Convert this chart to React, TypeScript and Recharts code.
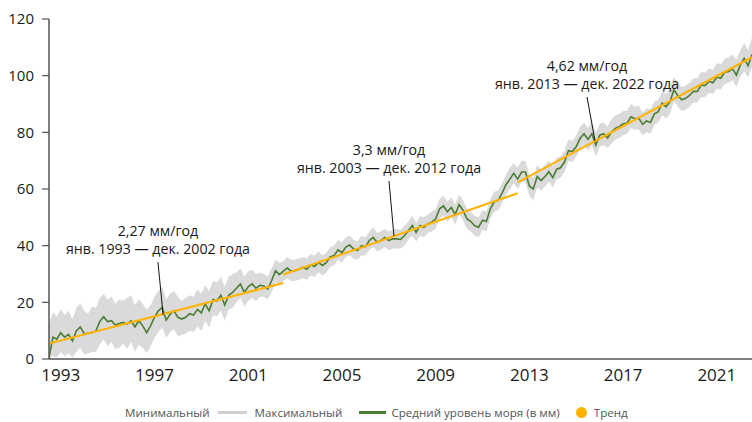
import { ComposedChart, Area, Line, XAxis, YAxis, ReferenceLine, ReferenceDot } from 'recharts';

// sea level, mm, every two months from Jan 1993 to Jan 2023
const startYear = 1993;
const stepsPerYear = 6;

const seaMean = [
  0.5, 7.7, 7.0, 9.3, 7.7, 8.7,
  6.4, 9.9, 11.3, 9.0, 9.0, 9.3,
  9.9, 13.2, 14.9, 13.2, 13.5, 12.0,
  12.5, 12.9, 12.3, 13.5, 11.3, 13.5,
  11.7, 9.3, 11.7, 14.7, 17.0, 18.2,
  13.7, 15.8, 17.0, 14.7, 14.1, 14.7,
  16.0, 15.5, 17.5, 16.3, 19.5, 17.0,
  21.0, 20.5, 22.5, 19.0, 22.5, 23.5,
  25.0, 26.5, 23.5, 25.5, 26.5, 25.0,
  26.0, 25.8, 24.7, 27.6, 31.2, 29.8,
  31.0, 32.1, 31.0, 31.2, 31.7, 32.3,
  31.7, 33.2, 32.6, 34.1, 33.0, 34.0,
  36.0, 36.5, 38.5, 37.5, 39.5, 40.2,
  38.8, 38.3, 40.0, 39.6, 41.8, 42.9,
  41.2, 41.8, 42.9, 41.8, 42.4, 42.4,
  42.2, 43.5, 45.3, 47.1, 44.7, 47.1,
  46.5, 47.7, 48.3, 49.5, 53.0, 54.0,
  52.0, 53.5, 51.0, 54.5, 52.5, 49.5,
  48.5, 47.0, 46.5, 49.0, 48.5, 53.0,
  55.5, 56.0, 58.5, 61.5, 63.5, 65.5,
  63.5, 66.0, 66.0, 61.0, 60.0, 64.4,
  63.0, 64.4, 66.1, 64.0, 67.0, 67.5,
  69.6, 73.5, 73.2, 75.0, 77.9, 79.5,
  77.5, 79.5, 75.5, 79.0, 79.5, 78.0,
  80.0, 81.4, 82.0, 83.0, 83.2, 85.5,
  84.8, 85.0, 82.8, 84.0, 83.5, 86.5,
  87.3, 90.3, 89.0, 90.8, 95.0, 93.0,
  91.5, 92.0, 93.0, 94.5, 94.4, 96.7,
  96.5, 98.0, 97.5, 99.5, 99.1, 101.2,
  101.5, 102.5, 100.2, 103.8, 106.1, 103.5,
  107.5,
];

const seaMin = [
  0, 1.0, 0.5, 2.5, 1.0, 2.0,
  0.5, 2.5, 4.0, 1.5, 2.0, 2.5,
  2.5, 5.0, 7.0, 4.5, 6.0, 3.5,
  4.0, 5.5, 3.5, 6.0, 2.5, 5.0,
  4.0, 2.0, 4.5, 7.5, 9.5, 11.0,
  7.5, 9.5, 10.5, 8.0, 8.5, 9.0,
  10.0, 9.5, 11.5, 10.0, 13.5, 11.0,
  15.5, 15.0, 17.0, 13.5, 17.5, 18.0,
  20.0, 21.5, 18.5, 20.5, 21.5, 20.5,
  22.0, 22.0, 21.0, 23.5, 27.0, 26.0,
  27.5, 28.5, 27.5, 27.5, 28.0, 28.5,
  28.0, 29.5, 29.0, 30.5, 29.5, 30.5,
  32.5, 33.0, 35.0, 34.0, 36.0, 36.5,
  35.5, 35.0, 36.5, 36.5, 38.5, 39.5,
  38.0, 38.5, 39.5, 38.5, 39.0, 39.0,
  39.0, 40.0, 42.0, 43.5, 41.5, 43.5,
  43.0, 44.5, 45.0, 46.0, 49.5, 50.5,
  48.5, 50.0, 47.5, 51.0, 49.0, 46.0,
  45.0, 43.5, 43.0, 45.5, 45.0, 49.5,
  52.0, 52.5, 55.0, 58.0, 60.0, 62.0,
  60.0, 62.5, 62.5, 57.5, 56.0, 60.5,
  59.5, 61.0, 62.5, 60.5, 63.5, 64.0,
  66.0, 70.0, 69.5, 71.5, 74.0, 75.5,
  73.5, 75.5, 71.5, 75.0, 75.5, 74.5,
  76.0, 77.5, 78.0, 79.0, 79.5, 81.5,
  81.0, 81.0, 79.0, 80.0, 79.5, 82.5,
  83.5, 86.0, 85.0, 86.5, 91.0, 89.0,
  87.5, 88.0, 89.0, 90.5, 90.5, 92.5,
  92.5, 94.0, 93.5, 95.5, 95.0, 97.0,
  97.5, 98.5, 96.0, 99.5, 101.5, 99.5,
  103.0,
];

const seaMax = [
  12.0, 16.5, 15.0, 17.5, 15.5, 17.0,
  14.0, 18.0, 19.5, 17.0, 16.0, 18.5,
  18.0, 21.5, 23.0, 21.0, 22.0, 19.5,
  21.0, 20.5, 21.5, 22.5, 19.0, 21.0,
  19.5, 17.5, 19.0, 22.0, 24.0, 25.5,
  21.0, 23.0, 24.0, 22.0, 20.5, 21.5,
  22.5, 22.0, 24.5, 23.0, 26.0, 24.0,
  27.5, 27.0, 29.0, 25.5, 29.0, 30.0,
  30.5, 32.0, 29.0, 31.0, 31.5, 30.0,
  30.5, 30.0, 29.0, 32.0, 35.0, 34.0,
  34.5, 36.0, 35.0, 35.0, 35.5, 36.0,
  35.5, 37.0, 36.5, 38.0, 36.5, 37.5,
  39.5, 40.0, 42.0, 41.0, 43.0, 43.5,
  42.0, 41.5, 43.5, 43.0, 45.0, 46.5,
  44.5, 45.0, 46.0, 45.0, 45.5, 46.0,
  45.5, 47.0, 48.5, 50.5, 48.0, 50.5,
  50.0, 51.0, 52.0, 53.0, 56.5, 57.5,
  55.5, 57.0, 54.5, 58.0, 56.0, 53.0,
  52.0, 50.5, 50.0, 52.5, 52.0, 56.5,
  59.0, 59.5, 62.0, 65.0, 67.5, 69.0,
  67.5, 70.0, 70.0, 65.0, 64.0, 68.5,
  67.0, 68.5, 70.0, 68.0, 71.0, 71.5,
  73.5, 77.5, 77.0, 79.0, 82.0, 83.5,
  81.5, 83.5, 80.0, 83.0, 83.5, 82.0,
  84.5, 86.0, 86.5, 87.5, 87.5, 90.0,
  89.0, 89.5, 87.0, 88.5, 88.0, 91.0,
  91.5, 94.5, 93.5, 95.5, 99.5, 97.5,
  96.0, 96.5, 97.5, 99.0, 99.0, 101.5,
  101.0, 102.5, 102.0, 104.5, 104.0, 106.0,
  106.5, 107.5, 105.5, 109.0, 111.5, 109.0,
  113.5,
];

// linear trends per decade
const trendFrom = [1993, 2003, 2013];
const trendTo = [2003, 2013, 2023];
const trendStartValue = [5.5, 29.8, 62.3];
const trendEndValue = [26.8, 58.5, 106.5];

// annotations: text plus leader line (top point -> point on trend)
const noteRate = ['2,27 мм/год', '3,3 мм/год', '4,62 мм/год'];
const notePeriod = ['янв. 1993 — дек. 2002 года', 'янв. 2003 — дек. 2012 года', 'янв. 2013 — дек. 2022 года'];
const noteTopYear = [1997.65, 2007.51, 2015.96];
const noteTopValue = [34.2, 62.8, 92.5];
const noteEndYear = [1997.87, 2007.72, 2016.3];
const noteEndValue = [15.5, 43.4, 77.0];

const xTickYears = [1993, 1997, 2001, 2005, 2009, 2013, 2017, 2021];
const yTicks = [0, 20, 40, 60, 80, 100, 120];

const data = seaMean.map((mean, i) => ({
  t: startYear + i / stepsPerYear,
  mean,
  band: [seaMin[i], seaMax[i]],
}));

const trends = trendFrom.map((from, i) => [
  { t: from, v: trendStartValue[i] },
  { t: trendTo[i], v: trendEndValue[i] },
]);

const GREEN = '#4b7c33';
const GRAY = '#dadada';
const ORANGE = '#ffb300';
const FONT = '"Open Sans", sans-serif';

const NoteLabel = ({ viewBox, rate, period }: any) => {
  const x = viewBox.x;
  const y = viewBox.y;
  return (
    <g fontFamily={FONT} fontSize={14.2} fill="#1a1a1a" textAnchor="middle">
      <text x={x} y={y - 26}>{rate}</text>
      <text x={x} y={y - 8}>{period}</text>
    </g>
  );
};

const LegendRow = () => (
  <div
    style={{
      position: 'absolute',
      left: 125,
      top: 405,
      display: 'flex',
      alignItems: 'center',
      whiteSpace: 'nowrap',
      fontFamily: FONT,
      fontSize: 11.6,
      color: '#555',
    }}
  >
    <span>Минимальный</span>
    <span style={{ width: 29, height: 3, background: '#cfcfcf', margin: '0 8px' }} />
    <span>Максимальный</span>
    <span style={{ width: 27, height: 3, background: GREEN, margin: '0 5px 0 17px' }} />
    <span>Средний уровень моря (в мм)</span>
    <span
      style={{ width: 11, height: 11, borderRadius: '50%', background: ORANGE, margin: '0 7px 0 16px' }}
    />
    <span>Тренд</span>
  </div>
);

export default function App() {
  return (
    <div style={{ position: 'absolute', left: 0, top: 0, width: 752, height: 422, background: '#fff' }}>
      <ComposedChart width={752} height={422} data={data} margin={{ top: 19, right: 0, bottom: 0, left: 0 }}>
        <XAxis
          dataKey="t"
          type="number"
          domain={[1993, 2023]}
          allowDataOverflow
          ticks={xTickYears.map((y) => y + 0.5)}
          tickFormatter={(v: number) => String(Math.floor(v))}
          tickLine={false}
          tickSize={0}
          tickMargin={10}
          height={63}
          axisLine={{ stroke: '#555', strokeWidth: 1.5 }}
          tick={{ fill: '#1a1a1a', fontSize: 17, fontFamily: FONT }}
        />
        <YAxis
          type="number"
          domain={[0, 120]}
          ticks={yTicks}
          width={49}
          tickSize={7}
          tickMargin={8}
          axisLine={{ stroke: '#555', strokeWidth: 1.5 }}
          tickLine={{ stroke: '#555', strokeWidth: 1.2 }}
          tick={{ fill: '#1a1a1a', fontSize: 15, fontFamily: FONT }}
        />
        <Area
          dataKey="band"
          stroke="none"
          fill={GRAY}
          fillOpacity={1}
          isAnimationActive={false}
        />
        <Line dataKey="mean" stroke={GREEN} strokeWidth={1.6} dot={false} isAnimationActive={false} />
        {trends.map((seg, i) => (
          <Line
            key={i}
            data={seg}
            dataKey="v"
            stroke={ORANGE}
            strokeWidth={2}
            dot={false}
            isAnimationActive={false}
          />
        ))}
        {noteRate.map((rate, i) => (
          <ReferenceLine
            key={'l' + i}
            segment={[
              { x: noteTopYear[i], y: noteTopValue[i] },
              { x: noteEndYear[i], y: noteEndValue[i] },
            ]}
            stroke="#111"
            strokeWidth={1}
          />
        ))}
        {noteRate.map((rate, i) => (
          <ReferenceDot
            key={'d' + i}
            x={noteTopYear[i]}
            y={noteTopValue[i]}
            r={0}
            stroke="none"
            fill="none"
            label={(props: any) => <NoteLabel {...props} rate={rate} period={notePeriod[i]} />}
          />
        ))}
      </ComposedChart>
      <LegendRow />
    </div>
  );
}
